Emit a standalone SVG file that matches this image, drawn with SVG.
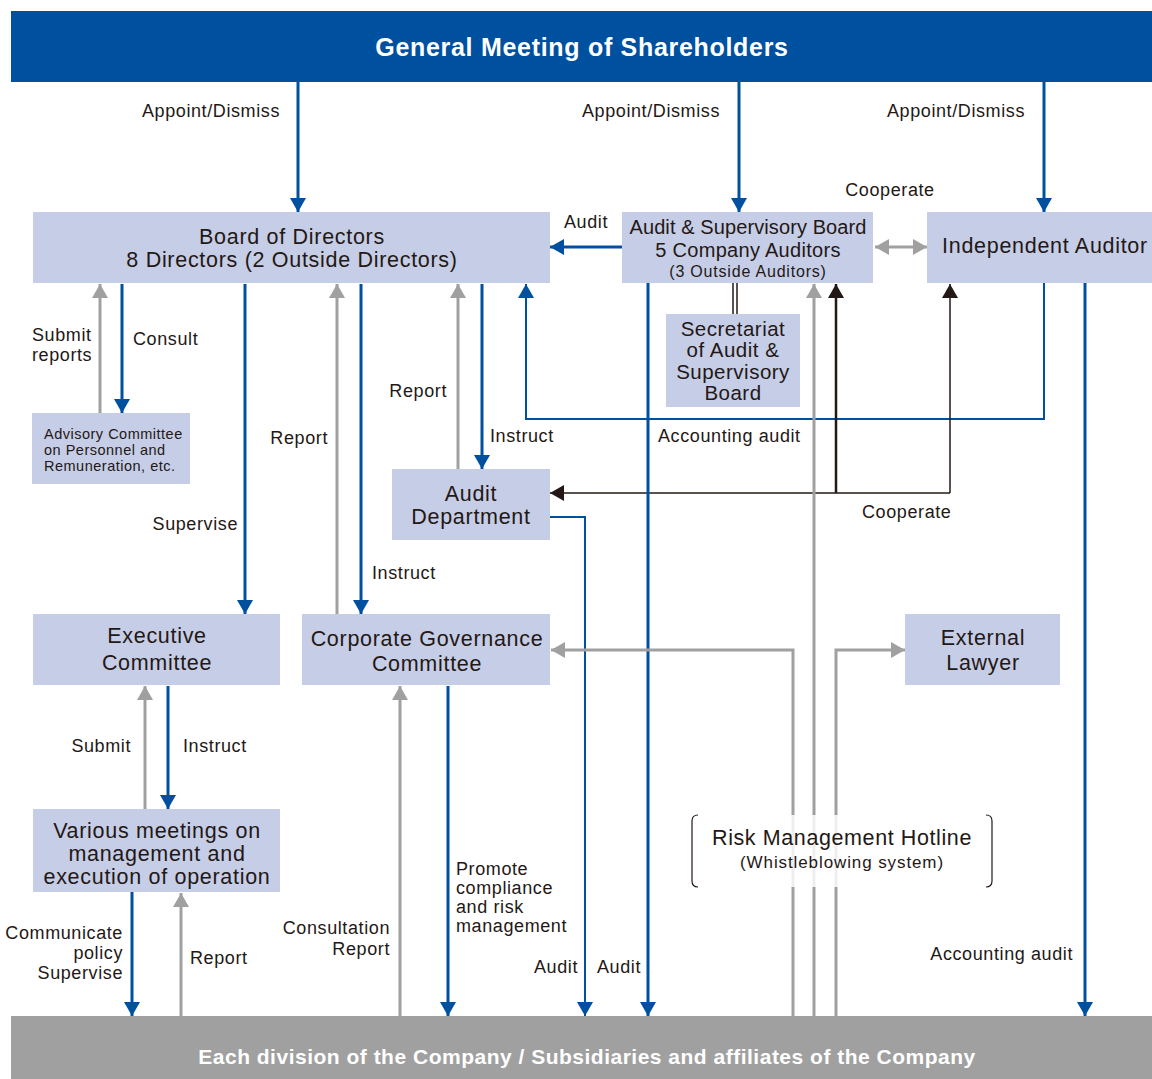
<svg xmlns="http://www.w3.org/2000/svg" width="1152" height="1079" viewBox="0 0 1152 1079">
<defs>
<style>
.node{fill:#c6cde6}
.t{font-family:"Liberation Sans",Arial,sans-serif;fill:#231815}
.nt{font-size:21.5px;letter-spacing:0.7px;text-anchor:middle}
.lb{font-size:18px;letter-spacing:0.6px}
.b{stroke:#0050a0;stroke-width:3;fill:none}
.bt{stroke:#0050a0;stroke-width:2;fill:none}
.g{stroke:#a0a0a0;stroke-width:3;fill:none}
.k{stroke:#231815;stroke-width:1.5;fill:none}
.kk{stroke:#231815;stroke-width:2.5;fill:none}
</style>
<marker id="ab" viewBox="0 0 14 16" markerWidth="14" markerHeight="16" refX="14" refY="8" orient="auto" markerUnits="userSpaceOnUse"><path d="M0,0L14,8L0,16z" fill="#0050a0"/></marker>
<marker id="ag" viewBox="0 0 14 16" markerWidth="14" markerHeight="16" refX="14" refY="8" orient="auto-start-reverse" markerUnits="userSpaceOnUse"><path d="M0,0L14,8L0,16z" fill="#a0a0a0"/></marker>
<marker id="ak" viewBox="0 0 14 16" markerWidth="14" markerHeight="16" refX="14" refY="8" orient="auto" markerUnits="userSpaceOnUse"><path d="M0,0L14,8L0,16z" fill="#231815"/></marker>
</defs>

<g id="gm">
<rect x="11" y="11" width="1141" height="71" fill="#0050a0"/>
<text x="582" y="56" class="t" style="font-size:25px;letter-spacing:0.7px;font-weight:bold;fill:#fff;text-anchor:middle">General Meeting of Shareholders</text>
</g>

<g id="bottom">
<rect x="11" y="1016" width="1141" height="63" fill="#a0a0a0"/>
<text x="587" y="1064" class="t" style="font-size:21px;letter-spacing:0.5px;font-weight:bold;fill:#fff;text-anchor:middle">Each division of the Company / Subsidiaries and affiliates of the Company</text>
</g>

<g id="connectors">
<line x1="298" y1="82" x2="298" y2="212" class="b" marker-end="url(#ab)"/>
<line x1="739" y1="82" x2="739" y2="212" class="b" marker-end="url(#ab)"/>
<line x1="1044" y1="82" x2="1044" y2="212" class="b" marker-end="url(#ab)"/>
<line x1="875" y1="247" x2="927" y2="247" class="g" marker-start="url(#ag)" marker-end="url(#ag)"/>
<line x1="622" y1="247" x2="550" y2="247" class="b" marker-end="url(#ab)"/>
<line x1="100" y1="413" x2="100" y2="284" class="g" marker-end="url(#ag)"/>
<line x1="122" y1="284" x2="122" y2="413" class="b" marker-end="url(#ab)"/>
<line x1="245" y1="284" x2="245" y2="614" class="b" marker-end="url(#ab)"/>
<line x1="337" y1="614" x2="337" y2="284" class="g" marker-end="url(#ag)"/>
<line x1="361" y1="284" x2="361" y2="614" class="b" marker-end="url(#ab)"/>
<line x1="458" y1="469" x2="458" y2="284" class="g" marker-end="url(#ag)"/>
<line x1="482" y1="284" x2="482" y2="469" class="b" marker-end="url(#ab)"/>
<polyline points="1044,283 1044,419 526,419 526,284" class="bt" marker-end="url(#ab)"/>
<line x1="733" y1="283" x2="733" y2="314" class="k"/>
<line x1="737" y1="283" x2="737" y2="314" class="k"/>
<polyline points="950,493 550,493" class="k" marker-end="url(#ak)"/>
<line x1="950" y1="493" x2="950" y2="284" class="k" marker-end="url(#ak)"/>
<line x1="836" y1="493" x2="836" y2="284" class="kk" marker-end="url(#ak)"/>
<line x1="648" y1="283" x2="648" y2="1016" class="b" marker-end="url(#ab)"/>
<polyline points="550,517 585,517 585,1016" class="bt" marker-end="url(#ab)"/>
<line x1="814" y1="1016" x2="814" y2="284" class="g" marker-end="url(#ag)"/>
<polyline points="793,1016 793,650 551,650" class="g" stroke-width="2.5" marker-end="url(#ag)"/>
<polyline points="836,1016 836,650 905,650" class="g" stroke-width="2.5" marker-end="url(#ag)"/>
<line x1="1085" y1="283" x2="1085" y2="1016" class="b" marker-end="url(#ab)"/>
<line x1="145" y1="809" x2="145" y2="686" class="g" marker-end="url(#ag)"/>
<line x1="168" y1="686" x2="168" y2="809" class="b" marker-end="url(#ab)"/>
<line x1="132" y1="892" x2="132" y2="1016" class="b" marker-end="url(#ab)"/>
<line x1="181" y1="1016" x2="181" y2="893" class="g" marker-end="url(#ag)"/>
<line x1="400" y1="1016" x2="400" y2="686" class="g" marker-end="url(#ag)"/>
<line x1="448" y1="686" x2="448" y2="1016" class="b" marker-end="url(#ab)"/>
</g>

<g id="labels" class="t lb">
<text x="280" y="117" text-anchor="end">Appoint/Dismiss</text>
<text x="720" y="117" text-anchor="end">Appoint/Dismiss</text>
<text x="1025" y="117" text-anchor="end">Appoint/Dismiss</text>
<text x="890" y="196" text-anchor="middle">Cooperate</text>
<text x="586" y="228" text-anchor="middle">Audit</text>
<text x="32" y="341">Submit</text>
<text x="32" y="361">reports</text>
<text x="133" y="345">Consult</text>
<text x="238" y="530" text-anchor="end">Supervise</text>
<text x="328" y="444" text-anchor="end">Report</text>
<text x="372" y="579">Instruct</text>
<text x="447" y="397" text-anchor="end">Report</text>
<text x="490" y="442">Instruct</text>
<text x="658" y="442">Accounting audit</text>
<text x="862" y="518">Cooperate</text>
<text x="578" y="973" text-anchor="end">Audit</text>
<text x="597" y="973">Audit</text>
<text x="1073" y="960" text-anchor="end">Accounting audit</text>
<text x="131" y="752" text-anchor="end">Submit</text>
<text x="183" y="752">Instruct</text>
<text x="123" y="939" text-anchor="end">Communicate</text>
<text x="123" y="959" text-anchor="end">policy</text>
<text x="123" y="979" text-anchor="end">Supervise</text>
<text x="190" y="964">Report</text>
<text x="390" y="934" text-anchor="end">Consultation</text>
<text x="390" y="955" text-anchor="end">Report</text>
<text x="456" y="875">Promote</text>
<text x="456" y="894">compliance</text>
<text x="456" y="913">and risk</text>
<text x="456" y="932">management</text>
</g>

<g id="board">
<rect x="33" y="212" width="517" height="71" class="node"/>
<text class="t nt" x="292" y="244">Board of Directors</text>
<text class="t nt" x="292" y="267">8 Directors (2 Outside Directors)</text>
</g>

<g id="asb">
<rect x="622" y="212" width="251" height="71" class="node"/>
<text class="t nt" x="748" y="234" style="font-size:20px;letter-spacing:0.1px">Audit &amp; Supervisory Board</text>
<text class="t nt" x="748" y="257" style="font-size:20px;letter-spacing:0.3px">5 Company Auditors</text>
<text class="t nt" x="748" y="277" style="font-size:16px;letter-spacing:0.8px">(3 Outside Auditors)</text>
</g>

<g id="indep">
<rect x="927" y="212" width="225" height="71" class="node"/>
<text class="t nt" x="1045" y="253">Independent Auditor</text>
</g>

<g id="secretariat">
<rect x="666" y="314" width="134" height="93" class="node"/>
<text class="t nt" x="733" y="336" style="font-size:20.5px;letter-spacing:0.5px">Secretariat</text>
<text class="t nt" x="733" y="357" style="font-size:20.5px;letter-spacing:0.5px">of Audit &amp;</text>
<text class="t nt" x="733" y="379" style="font-size:20.5px;letter-spacing:0.5px">Supervisory</text>
<text class="t nt" x="733" y="400" style="font-size:20.5px;letter-spacing:0.5px">Board</text>
</g>

<g id="advisory">
<rect x="32" y="413" width="158" height="71" class="node"/>
<text class="t" x="44" y="439" style="font-size:14.5px;letter-spacing:0.5px">Advisory Committee</text>
<text class="t" x="44" y="455" style="font-size:14.5px;letter-spacing:0.5px">on Personnel and</text>
<text class="t" x="44" y="471" style="font-size:14.5px;letter-spacing:0.5px">Remuneration, etc.</text>
</g>

<g id="auditdept">
<rect x="392" y="469" width="158" height="71" class="node"/>
<text class="t nt" x="471" y="501">Audit</text>
<text class="t nt" x="471" y="524">Department</text>
</g>

<g id="exec">
<rect x="33" y="614" width="247" height="71" class="node"/>
<text class="t nt" x="157" y="643">Executive</text>
<text class="t nt" x="157" y="670">Committee</text>
</g>

<g id="cgc">
<rect x="302" y="614" width="248" height="71" class="node"/>
<text class="t nt" x="427" y="646">Corporate Governance</text>
<text class="t nt" x="427" y="671">Committee</text>
</g>

<g id="lawyer">
<rect x="905" y="614" width="155" height="71" class="node"/>
<text class="t nt" x="983" y="645">External</text>
<text class="t nt" x="983" y="670">Lawyer</text>
</g>

<g id="various">
<rect x="33" y="809" width="247" height="83" class="node"/>
<text class="t nt" x="157" y="838">Various meetings on</text>
<text class="t nt" x="157" y="861">management and</text>
<text class="t nt" x="157" y="884">execution of operation</text>
</g>

<g id="hotline">
<rect x="700" y="815" width="285" height="72" fill="#fff" opacity="0.82"/>
<path d="M698,815 Q692,815 692,821 L692,881 Q692,887 698,887" fill="none" stroke="#231815" stroke-width="1.2"/>
<path d="M986,815 Q992,815 992,821 L992,881 Q992,887 986,887" fill="none" stroke="#231815" stroke-width="1.2"/>
<text class="t nt" x="842" y="845" style="letter-spacing:0.6px">Risk Management Hotline</text>
<text class="t nt" x="842" y="868" style="font-size:17px;letter-spacing:0.9px">(Whistleblowing system)</text>
</g>
</svg>
